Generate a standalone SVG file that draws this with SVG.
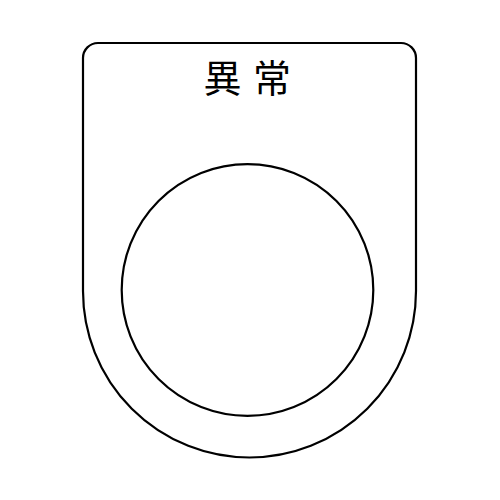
<svg xmlns="http://www.w3.org/2000/svg" width="500" height="500" viewBox="0 0 500 500">
<style>
.ln{fill:none;stroke:#000;stroke-width:2.2}
.t{font-family:"Noto Sans CJK JP","Noto Sans CJK SC",sans-serif;font-size:38px;fill:#000;text-anchor:middle}
</style>
<rect width="500" height="500" fill="#fff"/>
<g id="plate">
<path class="ln" d="M83,291 L83,58 A15,15 0 0 1 98,43 L401,43 A15,15 0 0 1 416,58 L416,291 A166.5,166.5 0 0 1 83,291 Z"/>
</g>
<g id="hole">
<circle class="ln" cx="247.5" cy="290" r="125.8"/>
</g>
<g id="label">
<text class="t" x="222.5" y="92">異</text>
<text class="t" x="272" y="92">常</text>
</g>
</svg>
